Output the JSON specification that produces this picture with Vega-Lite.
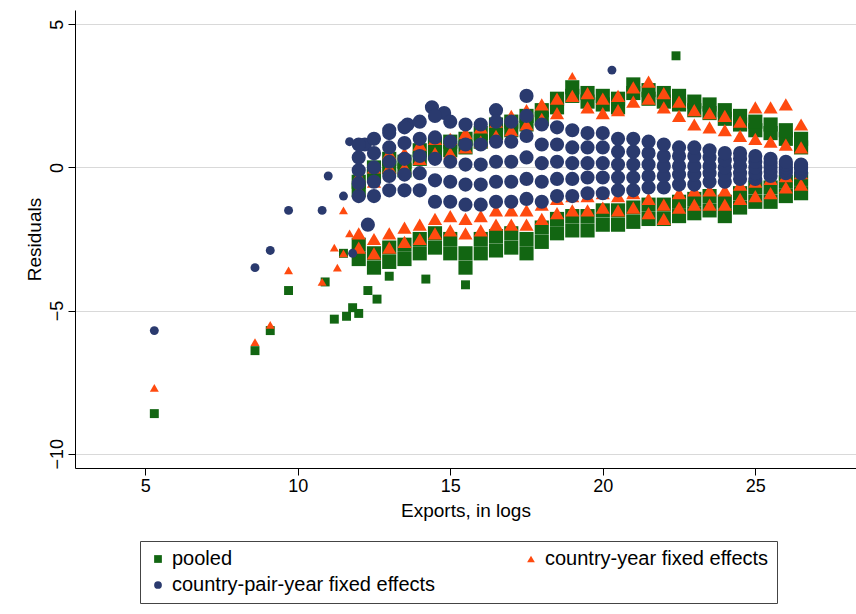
{
  "$schema": "https://vega.github.io/schema/vega-lite/v6.json",
  "width": 781,
  "height": 458,
  "autosize": "none",
  "padding": {"left": 75, "top": 10, "right": 0, "bottom": 146},
  "background": "white",
  "config": {
    "font": "Liberation Sans",
    "view": {"stroke": null},
    "axis": {"labelFontSize": 18, "titleFontSize": 19, "labelColor": "black", "titleColor": "black", "titleFontWeight": "normal", "domainColor": "black", "tickColor": "black", "tickSize": 7}
  },
  "data": {"values": [
    {"x":5.3,"y":-8.6,"s":"a"},{"x":8.6,"y":-6.4,"s":"a"},{"x":9.1,"y":-5.7,"s":"a"},{"x":9.7,"y":-4.3,"s":"a"},{"x":10.9,"y":-4.0,"s":"a"},
    {"x":11.2,"y":-5.3,"s":"a"},{"x":11.6,"y":-5.2,"s":"a"},{"x":11.8,"y":-4.9,"s":"a"},{"x":12.0,"y":-5.1,"s":"a"},{"x":12.3,"y":-4.3,"s":"a"},{"x":12.6,"y":-4.6,"s":"a"},{"x":13.0,"y":-3.8,"s":"a"},{"x":14.2,"y":-3.9,"s":"a"},{"x":15.5,"y":-4.1,"s":"a"},{"x":22.4,"y":3.9,"s":"a"},{"x":11.5,"y":-3.0,"s":"a"},
    {"x":12.0,"y":-3.2,"s":"a"},{"x":12.0,"y":-2.7,"s":"a"},{"x":12.0,"y":-0.8,"s":"a"},{"x":12.0,"y":-0.5,"s":"a"},
    {"x":12.5,"y":-3.5,"s":"a"},{"x":12.5,"y":-3.0,"s":"a"},{"x":12.5,"y":-0.3,"s":"a"},{"x":12.5,"y":0.0,"s":"a"},
    {"x":13.0,"y":-3.3,"s":"a"},{"x":13.0,"y":-2.8,"s":"a"},{"x":13.0,"y":0.0,"s":"a"},{"x":13.0,"y":0.3,"s":"a"},
    {"x":13.5,"y":-3.2,"s":"a"},{"x":13.5,"y":-2.7,"s":"a"},{"x":13.5,"y":-0.1,"s":"a"},{"x":13.5,"y":0.2,"s":"a"},
    {"x":14.0,"y":-3.0,"s":"a"},{"x":14.0,"y":-2.5,"s":"a"},{"x":14.0,"y":0.3,"s":"a"},{"x":14.0,"y":0.6,"s":"a"},
    {"x":14.5,"y":-2.8,"s":"a"},{"x":14.5,"y":-2.3,"s":"a"},{"x":14.5,"y":0.5,"s":"a"},{"x":14.5,"y":0.8,"s":"a"},
    {"x":15.0,"y":-3.0,"s":"a"},{"x":15.0,"y":-2.5,"s":"a"},{"x":15.0,"y":0.6,"s":"a"},{"x":15.0,"y":0.9,"s":"a"},
    {"x":15.5,"y":-3.5,"s":"a"},{"x":15.5,"y":-3.0,"s":"a"},{"x":15.5,"y":0.7,"s":"a"},{"x":15.5,"y":1.0,"s":"a"},
    {"x":16.0,"y":-3.0,"s":"a"},{"x":16.0,"y":-2.5,"s":"a"},{"x":16.0,"y":0.9,"s":"a"},{"x":16.0,"y":1.2,"s":"a"},
    {"x":16.5,"y":-2.9,"s":"a"},{"x":16.5,"y":-2.4,"s":"a"},{"x":16.5,"y":1.2,"s":"a"},{"x":16.5,"y":1.5,"s":"a"},
    {"x":17.0,"y":-2.8,"s":"a"},{"x":17.0,"y":-2.3,"s":"a"},{"x":17.0,"y":1.3,"s":"a"},{"x":17.0,"y":1.6,"s":"a"},
    {"x":17.5,"y":-3.0,"s":"a"},{"x":17.5,"y":-2.5,"s":"a"},{"x":17.5,"y":1.5,"s":"a"},{"x":17.5,"y":1.8,"s":"a"},
    {"x":18.0,"y":-2.6,"s":"a"},{"x":18.0,"y":-2.1,"s":"a"},{"x":18.0,"y":1.7,"s":"a"},{"x":18.0,"y":2.0,"s":"a"},
    {"x":18.5,"y":-2.3,"s":"a"},{"x":18.5,"y":-1.8,"s":"a"},{"x":18.5,"y":2.1,"s":"a"},{"x":18.5,"y":2.4,"s":"a"},
    {"x":19.0,"y":-2.2,"s":"a"},{"x":19.0,"y":-1.7,"s":"a"},{"x":19.0,"y":2.5,"s":"a"},{"x":19.0,"y":2.8,"s":"a"},
    {"x":19.5,"y":-2.2,"s":"a"},{"x":19.5,"y":-1.7,"s":"a"},{"x":19.5,"y":2.3,"s":"a"},{"x":19.5,"y":2.6,"s":"a"},
    {"x":20.0,"y":-2.0,"s":"a"},{"x":20.0,"y":-1.5,"s":"a"},{"x":20.0,"y":2.2,"s":"a"},{"x":20.0,"y":2.5,"s":"a"},
    {"x":20.5,"y":-2.0,"s":"a"},{"x":20.5,"y":-1.5,"s":"a"},{"x":20.5,"y":2.1,"s":"a"},{"x":20.5,"y":2.4,"s":"a"},
    {"x":21.0,"y":-1.9,"s":"a"},{"x":21.0,"y":-1.4,"s":"a"},{"x":21.0,"y":2.6,"s":"a"},{"x":21.0,"y":2.9,"s":"a"},
    {"x":21.5,"y":-1.8,"s":"a"},{"x":21.5,"y":-1.3,"s":"a"},{"x":21.5,"y":2.4,"s":"a"},{"x":21.5,"y":2.7,"s":"a"},
    {"x":22.0,"y":-1.8,"s":"a"},{"x":22.0,"y":-1.3,"s":"a"},{"x":22.0,"y":2.3,"s":"a"},{"x":22.0,"y":2.6,"s":"a"},
    {"x":22.5,"y":-1.7,"s":"a"},{"x":22.5,"y":-1.2,"s":"a"},{"x":22.5,"y":2.2,"s":"a"},{"x":22.5,"y":2.5,"s":"a"},
    {"x":23.0,"y":-1.6,"s":"a"},{"x":23.0,"y":-1.1,"s":"a"},{"x":23.0,"y":2.0,"s":"a"},{"x":23.0,"y":2.3,"s":"a"},
    {"x":23.5,"y":-1.5,"s":"a"},{"x":23.5,"y":-1.0,"s":"a"},{"x":23.5,"y":1.9,"s":"a"},{"x":23.5,"y":2.2,"s":"a"},
    {"x":24.0,"y":-1.7,"s":"a"},{"x":24.0,"y":-1.2,"s":"a"},{"x":24.0,"y":1.7,"s":"a"},{"x":24.0,"y":2.0,"s":"a"},
    {"x":24.5,"y":-1.4,"s":"a"},{"x":24.5,"y":-0.9,"s":"a"},{"x":24.5,"y":1.5,"s":"a"},{"x":24.5,"y":1.8,"s":"a"},
    {"x":25.0,"y":-1.2,"s":"a"},{"x":25.0,"y":-0.7,"s":"a"},{"x":25.0,"y":1.3,"s":"a"},{"x":25.0,"y":1.6,"s":"a"},
    {"x":25.5,"y":-1.2,"s":"a"},{"x":25.5,"y":-0.7,"s":"a"},{"x":25.5,"y":1.2,"s":"a"},{"x":25.5,"y":1.5,"s":"a"},
    {"x":26.0,"y":-1.0,"s":"a"},{"x":26.0,"y":-0.5,"s":"a"},{"x":26.0,"y":1.0,"s":"a"},{"x":26.0,"y":1.3,"s":"a"},
    {"x":26.5,"y":-0.9,"s":"a"},{"x":26.5,"y":-0.4,"s":"a"},{"x":26.5,"y":0.7,"s":"a"},{"x":26.5,"y":1.0,"s":"a"},

    {"x":5.3,"y":-7.7,"s":"b"},{"x":8.6,"y":-6.1,"s":"b"},{"x":9.1,"y":-5.5,"s":"b"},{"x":9.7,"y":-3.6,"s":"b"},{"x":10.8,"y":-4.0,"s":"b"},{"x":11.2,"y":-2.8,"s":"b"},{"x":11.3,"y":-3.5,"s":"b"},{"x":11.7,"y":-2.3,"s":"b"},{"x":11.5,"y":-1.5,"s":"b"},{"x":11.5,"y":-3.0,"s":"b"},
    {"x":12.0,"y":-2.8,"s":"b"},{"x":12.0,"y":-2.3,"s":"b"},{"x":12.0,"y":-0.8,"s":"b"},{"x":12.0,"y":-0.3,"s":"b"},
    {"x":12.5,"y":-3.0,"s":"b"},{"x":12.5,"y":-2.5,"s":"b"},{"x":12.5,"y":-0.5,"s":"b"},{"x":12.5,"y":0.0,"s":"b"},
    {"x":13.0,"y":-2.8,"s":"b"},{"x":13.0,"y":-2.3,"s":"b"},{"x":13.0,"y":0.0,"s":"b"},{"x":13.0,"y":0.5,"s":"b"},
    {"x":13.5,"y":-2.6,"s":"b"},{"x":13.5,"y":-2.1,"s":"b"},{"x":13.5,"y":0.0,"s":"b"},{"x":13.5,"y":0.5,"s":"b"},
    {"x":14.0,"y":-2.5,"s":"b"},{"x":14.0,"y":-2.0,"s":"b"},{"x":14.0,"y":0.3,"s":"b"},{"x":14.0,"y":0.8,"s":"b"},
    {"x":14.5,"y":-2.3,"s":"b"},{"x":14.5,"y":-1.8,"s":"b"},{"x":14.5,"y":0.5,"s":"b"},{"x":14.5,"y":1.0,"s":"b"},
    {"x":15.0,"y":-2.2,"s":"b"},{"x":15.0,"y":-1.7,"s":"b"},{"x":15.0,"y":0.5,"s":"b"},{"x":15.0,"y":1.0,"s":"b"},
    {"x":15.5,"y":-2.3,"s":"b"},{"x":15.5,"y":-1.8,"s":"b"},{"x":15.5,"y":0.7,"s":"b"},{"x":15.5,"y":1.2,"s":"b"},
    {"x":16.0,"y":-2.2,"s":"b"},{"x":16.0,"y":-1.7,"s":"b"},{"x":16.0,"y":0.9,"s":"b"},{"x":16.0,"y":1.4,"s":"b"},
    {"x":16.5,"y":-2.0,"s":"b"},{"x":16.5,"y":-1.5,"s":"b"},{"x":16.5,"y":1.1,"s":"b"},{"x":16.5,"y":1.6,"s":"b"},
    {"x":17.0,"y":-2.0,"s":"b"},{"x":17.0,"y":-1.5,"s":"b"},{"x":17.0,"y":1.3,"s":"b"},{"x":17.0,"y":1.8,"s":"b"},
    {"x":17.5,"y":-2.0,"s":"b"},{"x":17.5,"y":-1.5,"s":"b"},{"x":17.5,"y":1.5,"s":"b"},{"x":17.5,"y":2.0,"s":"b"},
    {"x":18.0,"y":-1.8,"s":"b"},{"x":18.0,"y":-1.3,"s":"b"},{"x":18.0,"y":1.7,"s":"b"},{"x":18.0,"y":2.2,"s":"b"},
    {"x":18.5,"y":-1.6,"s":"b"},{"x":18.5,"y":-1.1,"s":"b"},{"x":18.5,"y":1.9,"s":"b"},{"x":18.5,"y":2.4,"s":"b"},
    {"x":19.0,"y":-1.5,"s":"b"},{"x":19.0,"y":-1.0,"s":"b"},{"x":19.0,"y":2.5,"s":"b"},{"x":19.0,"y":3.2,"s":"b"},
    {"x":19.5,"y":-1.5,"s":"b"},{"x":19.5,"y":-1.0,"s":"b"},{"x":19.5,"y":2.1,"s":"b"},{"x":19.5,"y":2.6,"s":"b"},
    {"x":20.0,"y":-1.4,"s":"b"},{"x":20.0,"y":-0.9,"s":"b"},{"x":20.0,"y":1.9,"s":"b"},{"x":20.0,"y":2.4,"s":"b"},
    {"x":20.5,"y":-1.5,"s":"b"},{"x":20.5,"y":-1.0,"s":"b"},{"x":20.5,"y":2.0,"s":"b"},{"x":20.5,"y":2.5,"s":"b"},
    {"x":21.0,"y":-1.4,"s":"b"},{"x":21.0,"y":-0.9,"s":"b"},{"x":21.0,"y":2.3,"s":"b"},{"x":21.0,"y":2.8,"s":"b"},
    {"x":21.5,"y":-1.6,"s":"b"},{"x":21.5,"y":-1.1,"s":"b"},{"x":21.5,"y":2.4,"s":"b"},{"x":21.5,"y":3.0,"s":"b"},
    {"x":22.0,"y":-1.8,"s":"b"},{"x":22.0,"y":-1.3,"s":"b"},{"x":22.0,"y":2.1,"s":"b"},{"x":22.0,"y":2.6,"s":"b"},
    {"x":22.5,"y":-1.4,"s":"b"},{"x":22.5,"y":-0.9,"s":"b"},{"x":22.5,"y":1.8,"s":"b"},{"x":22.5,"y":2.3,"s":"b"},
    {"x":23.0,"y":-1.3,"s":"b"},{"x":23.0,"y":-0.8,"s":"b"},{"x":23.0,"y":1.5,"s":"b"},{"x":23.0,"y":2.0,"s":"b"},
    {"x":23.5,"y":-1.3,"s":"b"},{"x":23.5,"y":-0.8,"s":"b"},{"x":23.5,"y":1.4,"s":"b"},{"x":23.5,"y":1.9,"s":"b"},
    {"x":24.0,"y":-1.3,"s":"b"},{"x":24.0,"y":-0.8,"s":"b"},{"x":24.0,"y":1.3,"s":"b"},{"x":24.0,"y":1.8,"s":"b"},
    {"x":24.5,"y":-1.1,"s":"b"},{"x":24.5,"y":-0.6,"s":"b"},{"x":24.5,"y":1.1,"s":"b"},{"x":24.5,"y":1.6,"s":"b"},
    {"x":25.0,"y":-1.0,"s":"b"},{"x":25.0,"y":-0.5,"s":"b"},{"x":25.0,"y":1.0,"s":"b"},{"x":25.0,"y":2.1,"s":"b"},
    {"x":25.5,"y":-0.9,"s":"b"},{"x":25.5,"y":-0.4,"s":"b"},{"x":25.5,"y":0.9,"s":"b"},{"x":25.5,"y":2.1,"s":"b"},
    {"x":26.0,"y":-0.7,"s":"b"},{"x":26.0,"y":-0.3,"s":"b"},{"x":26.0,"y":0.8,"s":"b"},{"x":26.0,"y":2.2,"s":"b"},
    {"x":26.5,"y":-0.6,"s":"b"},{"x":26.5,"y":-0.2,"s":"b"},{"x":26.5,"y":0.7,"s":"b"},{"x":26.5,"y":1.5,"s":"b"},

    {"x":5.3,"y":-5.7,"s":"c"},{"x":8.6,"y":-3.5,"s":"c"},{"x":9.1,"y":-2.9,"s":"c"},{"x":9.7,"y":-1.5,"s":"c"},{"x":10.8,"y":-1.5,"s":"c"},{"x":11.0,"y":-0.3,"s":"c"},{"x":11.5,"y":-1.0,"s":"c"},{"x":11.7,"y":0.9,"s":"c"},{"x":12.2,"y":0.8,"s":"c"},{"x":13.0,"y":1.3,"s":"c"},{"x":13.6,"y":1.5,"s":"c"},{"x":14.4,"y":2.1,"s":"c"},{"x":14.8,"y":1.9,"s":"c"},{"x":16.5,"y":2.0,"s":"c"},{"x":17.5,"y":2.5,"s":"c"},{"x":20.3,"y":3.4,"s":"c"},{"x":12.3,"y":-2.0,"s":"c"},{"x":11.8,"y":-3.0,"s":"c"},
    {"x":12.0,"y":-1.0,"s":"c"},{"x":12.0,"y":-0.55,"s":"c"},{"x":12.0,"y":-0.1,"s":"c"},{"x":12.0,"y":0.35,"s":"c"},{"x":12.0,"y":0.8,"s":"c"},
    {"x":12.5,"y":-1.0,"s":"c"},{"x":12.5,"y":-0.5,"s":"c"},{"x":12.5,"y":0.0,"s":"c"},{"x":12.5,"y":0.5,"s":"c"},{"x":12.5,"y":1.0,"s":"c"},
    {"x":13.0,"y":-0.8,"s":"c"},{"x":13.0,"y":-0.3,"s":"c"},{"x":13.0,"y":0.2,"s":"c"},{"x":13.0,"y":0.7,"s":"c"},{"x":13.0,"y":1.2,"s":"c"},
    {"x":13.5,"y":-0.8,"s":"c"},{"x":13.5,"y":-0.25,"s":"c"},{"x":13.5,"y":0.3,"s":"c"},{"x":13.5,"y":0.85,"s":"c"},{"x":13.5,"y":1.4,"s":"c"},
    {"x":14.0,"y":-0.8,"s":"c"},{"x":14.0,"y":-0.2,"s":"c"},{"x":14.0,"y":0.4,"s":"c"},{"x":14.0,"y":1.0,"s":"c"},{"x":14.0,"y":1.6,"s":"c"},
    {"x":14.5,"y":-1.2,"s":"c"},{"x":14.5,"y":-0.45,"s":"c"},{"x":14.5,"y":0.3,"s":"c"},{"x":14.5,"y":1.05,"s":"c"},{"x":14.5,"y":1.8,"s":"c"},
    {"x":15.0,"y":-1.2,"s":"c"},{"x":15.0,"y":-0.5,"s":"c"},{"x":15.0,"y":0.2,"s":"c"},{"x":15.0,"y":0.9,"s":"c"},{"x":15.0,"y":1.6,"s":"c"},
    {"x":15.5,"y":-1.3,"s":"c"},{"x":15.5,"y":-0.6,"s":"c"},{"x":15.5,"y":0.1,"s":"c"},{"x":15.5,"y":0.8,"s":"c"},{"x":15.5,"y":1.5,"s":"c"},
    {"x":16.0,"y":-1.3,"s":"c"},{"x":16.0,"y":-0.6,"s":"c"},{"x":16.0,"y":0.1,"s":"c"},{"x":16.0,"y":0.8,"s":"c"},{"x":16.0,"y":1.5,"s":"c"},
    {"x":16.5,"y":-1.2,"s":"c"},{"x":16.5,"y":-0.5,"s":"c"},{"x":16.5,"y":0.2,"s":"c"},{"x":16.5,"y":0.9,"s":"c"},{"x":16.5,"y":1.6,"s":"c"},
    {"x":17.0,"y":-1.2,"s":"c"},{"x":17.0,"y":-0.5,"s":"c"},{"x":17.0,"y":0.2,"s":"c"},{"x":17.0,"y":0.9,"s":"c"},{"x":17.0,"y":1.6,"s":"c"},
    {"x":17.5,"y":-1.1,"s":"c"},{"x":17.5,"y":-0.4,"s":"c"},{"x":17.5,"y":0.35,"s":"c"},{"x":17.5,"y":1.1,"s":"c"},{"x":17.5,"y":1.8,"s":"c"},
    {"x":18.0,"y":-1.2,"s":"c"},{"x":18.0,"y":-0.5,"s":"c"},{"x":18.0,"y":0.15,"s":"c"},{"x":18.0,"y":0.8,"s":"c"},{"x":18.0,"y":1.5,"s":"c"},
    {"x":18.5,"y":-1.0,"s":"c"},{"x":18.5,"y":-0.4,"s":"c"},{"x":18.5,"y":0.2,"s":"c"},{"x":18.5,"y":0.8,"s":"c"},{"x":18.5,"y":1.4,"s":"c"},
    {"x":19.0,"y":-1.0,"s":"c"},{"x":19.0,"y":-0.4,"s":"c"},{"x":19.0,"y":0.15,"s":"c"},{"x":19.0,"y":0.7,"s":"c"},{"x":19.0,"y":1.3,"s":"c"},
    {"x":19.5,"y":-0.9,"s":"c"},{"x":19.5,"y":-0.35,"s":"c"},{"x":19.5,"y":0.15,"s":"c"},{"x":19.5,"y":0.7,"s":"c"},{"x":19.5,"y":1.2,"s":"c"},
    {"x":20.0,"y":-0.9,"s":"c"},{"x":20.0,"y":-0.35,"s":"c"},{"x":20.0,"y":0.15,"s":"c"},{"x":20.0,"y":0.7,"s":"c"},{"x":20.0,"y":1.2,"s":"c"},
    {"x":20.5,"y":-0.8,"s":"c"},{"x":20.5,"y":-0.35,"s":"c"},{"x":20.5,"y":0.1,"s":"c"},{"x":20.5,"y":0.55,"s":"c"},{"x":20.5,"y":1.0,"s":"c"},
    {"x":21.0,"y":-0.8,"s":"c"},{"x":21.0,"y":-0.35,"s":"c"},{"x":21.0,"y":0.1,"s":"c"},{"x":21.0,"y":0.55,"s":"c"},{"x":21.0,"y":1.0,"s":"c"},
    {"x":21.5,"y":-0.7,"s":"c"},{"x":21.5,"y":-0.3,"s":"c"},{"x":21.5,"y":0.1,"s":"c"},{"x":21.5,"y":0.5,"s":"c"},{"x":21.5,"y":0.9,"s":"c"},
    {"x":22.0,"y":-0.7,"s":"c"},{"x":22.0,"y":-0.3,"s":"c"},{"x":22.0,"y":0.05,"s":"c"},{"x":22.0,"y":0.4,"s":"c"},{"x":22.0,"y":0.8,"s":"c"},
    {"x":22.5,"y":-0.6,"s":"c"},{"x":22.5,"y":-0.25,"s":"c"},{"x":22.5,"y":0.05,"s":"c"},{"x":22.5,"y":0.4,"s":"c"},{"x":22.5,"y":0.7,"s":"c"},
    {"x":23.0,"y":-0.6,"s":"c"},{"x":23.0,"y":-0.25,"s":"c"},{"x":23.0,"y":0.05,"s":"c"},{"x":23.0,"y":0.4,"s":"c"},{"x":23.0,"y":0.7,"s":"c"},
    {"x":23.5,"y":-0.5,"s":"c"},{"x":23.5,"y":-0.2,"s":"c"},{"x":23.5,"y":0.05,"s":"c"},{"x":23.5,"y":0.35,"s":"c"},{"x":23.5,"y":0.6,"s":"c"},
    {"x":24.0,"y":-0.5,"s":"c"},{"x":24.0,"y":-0.25,"s":"c"},{"x":24.0,"y":0.0,"s":"c"},{"x":24.0,"y":0.25,"s":"c"},{"x":24.0,"y":0.5,"s":"c"},
    {"x":24.5,"y":-0.4,"s":"c"},{"x":24.5,"y":-0.2,"s":"c"},{"x":24.5,"y":0.05,"s":"c"},{"x":24.5,"y":0.3,"s":"c"},{"x":24.5,"y":0.5,"s":"c"},
    {"x":25.0,"y":-0.4,"s":"c"},{"x":25.0,"y":-0.2,"s":"c"},{"x":25.0,"y":0.0,"s":"c"},{"x":25.0,"y":0.2,"s":"c"},{"x":25.0,"y":0.4,"s":"c"},
    {"x":25.5,"y":-0.3,"s":"c"},{"x":25.5,"y":-0.15,"s":"c"},{"x":25.5,"y":0.0,"s":"c"},{"x":25.5,"y":0.15,"s":"c"},{"x":25.5,"y":0.3,"s":"c"},
    {"x":26.0,"y":-0.2,"s":"c"},{"x":26.0,"y":-0.1,"s":"c"},{"x":26.0,"y":0.0,"s":"c"},{"x":26.0,"y":0.1,"s":"c"},{"x":26.0,"y":0.2,"s":"c"},
    {"x":26.5,"y":-0.2,"s":"c"},{"x":26.5,"y":-0.05,"s":"c"},{"x":26.5,"y":0.0,"s":"c"},{"x":26.5,"y":0.05,"s":"c"},{"x":26.5,"y":0.1,"s":"c"}
  ]},
  "mark": {"type": "point", "filled": true, "opacity": 1, "clip": true},
  "encoding": {
    "x": {"field": "x", "type": "quantitative", "title": "Exports, in logs",
      "scale": {"domain": [2.7, 28.3], "nice": false, "zero": false},
      "axis": {"values": [5, 10, 15, 20, 25], "grid": false, "titlePadding": 6}},
    "y": {"field": "y", "type": "quantitative", "title": "Residuals",
      "scale": {"domain": [-10.5, 5.5], "nice": false, "zero": false},
      "axis": {"values": [-10, -5, 0, 5], "labelAngle": -90, "labelAlign": "center", "labelBaseline": "bottom", "gridColor": "#d9d9d9", "titlePadding": 4}},
    "size": {"condition": {"test": "datum.x < 11.9 || datum.y < -3.7 || datum.y > 3", "value": 80}, "value": 200},
    "color": {"field": "s", "type": "nominal",
      "scale": {"domain": ["a", "b", "c"], "range": ["#126612", "#ff4a0f", "#2a3a6e"]},
      "legend": {"title": null, "orient": "none", "legendX": 65, "legendY": 531, "columns": 2, "columnPadding": 85, "direction": "horizontal",
        "labelFontSize": 20, "labelLimit": 400, "labelColor": "black", "symbolSize": 60, "rowPadding": 6, "strokeColor": "#444", "padding": 8,
        "labelExpr": "datum.value == 'a' ? 'pooled' : datum.value == 'b' ? 'country-year fixed effects' : 'country-pair-year fixed effects'"}},
    "shape": {"field": "s", "type": "nominal",
      "scale": {"domain": ["a", "b", "c"], "range": ["square", "triangle-up", "circle"]}},
    "order": {"field": "s"}
  }
}
